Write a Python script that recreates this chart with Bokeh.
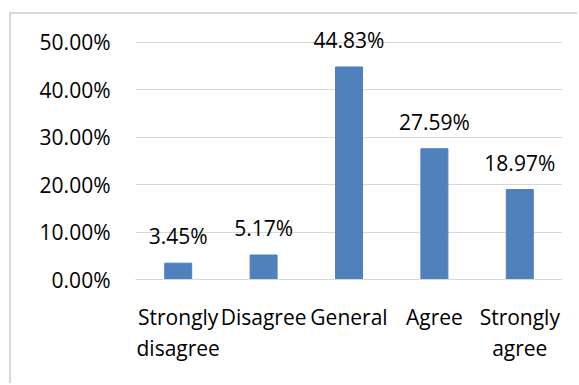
from bokeh.plotting import figure
from bokeh.models import ColumnDataSource, FixedTicker, NumeralTickFormatter, Range1d
from bokeh.core.properties import value
from bokeh.embed import file_html
from bokeh.resources import INLINE

# Survey responses: share of respondents per answer
categories = ["Strongly\ndisagree", "Disagree", "General", "Agree", "Strongly\nagree"]
shares = [0.0345, 0.0517, 0.4483, 0.2759, 0.1897]
y_ticks = [0.0, 0.1, 0.2, 0.3, 0.4, 0.5]

FONT = "Open Sans"
BAR = "#4F81BD"
GRID = "#D9D9D9"

source = ColumnDataSource(dict(
    cat=categories,
    share=shares,
    label=[f"{v * 100:.2f}%" for v in shares],
))

p = figure(
    x_range=categories,
    y_range=Range1d(0, 0.559),
    width=568, height=371,
    output_backend="svg", toolbar_location=None,
    min_border_left=124, min_border_right=17,
    min_border_top=0, min_border_bottom=106,
    styles={
        "margin-left": "9px", "margin-top": "12px",
        "border-left": f"2px solid {GRID}", "border-top": f"2px solid {GRID}",
    },
)
p.outline_line_color = None
p.background_fill_color = "white"
p.border_fill_color = "white"

p.vbar(x="cat", top="share", width=0.316, source=source,
       fill_color=BAR, line_color=BAR)

p.text(x="cat", y="share", text="label", source=source,
       text_align="center", text_baseline="alphabetic", y_offset=-27,
       text_font=value(FONT), text_font_size="21px", text_color="#000000")

# y axis: percentages, no axis line or ticks
p.yaxis.ticker = FixedTicker(ticks=y_ticks)
p.yaxis.formatter = NumeralTickFormatter(format="0.00%")
p.yaxis.axis_line_color = None
p.yaxis.major_tick_line_color = None
p.yaxis.minor_tick_line_color = None
p.yaxis.major_label_standoff = 19
p.yaxis.major_label_text_font = FONT
p.yaxis.major_label_text_font_size = "21px"
p.yaxis.major_label_text_color = "#000000"

# x axis: category names, wrapped onto two lines where needed
p.xaxis.axis_line_color = GRID
p.xaxis.major_tick_line_color = None
p.xaxis.minor_tick_line_color = None
p.xaxis.major_label_standoff = 17
p.xaxis.major_label_text_font = FONT
p.xaxis.major_label_text_font_size = "21px"
p.xaxis.major_label_text_color = "#000000"
p.xaxis.major_label_text_line_height = 1.12

p.xgrid.grid_line_color = None
p.ygrid.grid_line_color = GRID
p.ygrid.ticker = FixedTicker(ticks=y_ticks)

open("out.html", "w").write(file_html(p, INLINE))
